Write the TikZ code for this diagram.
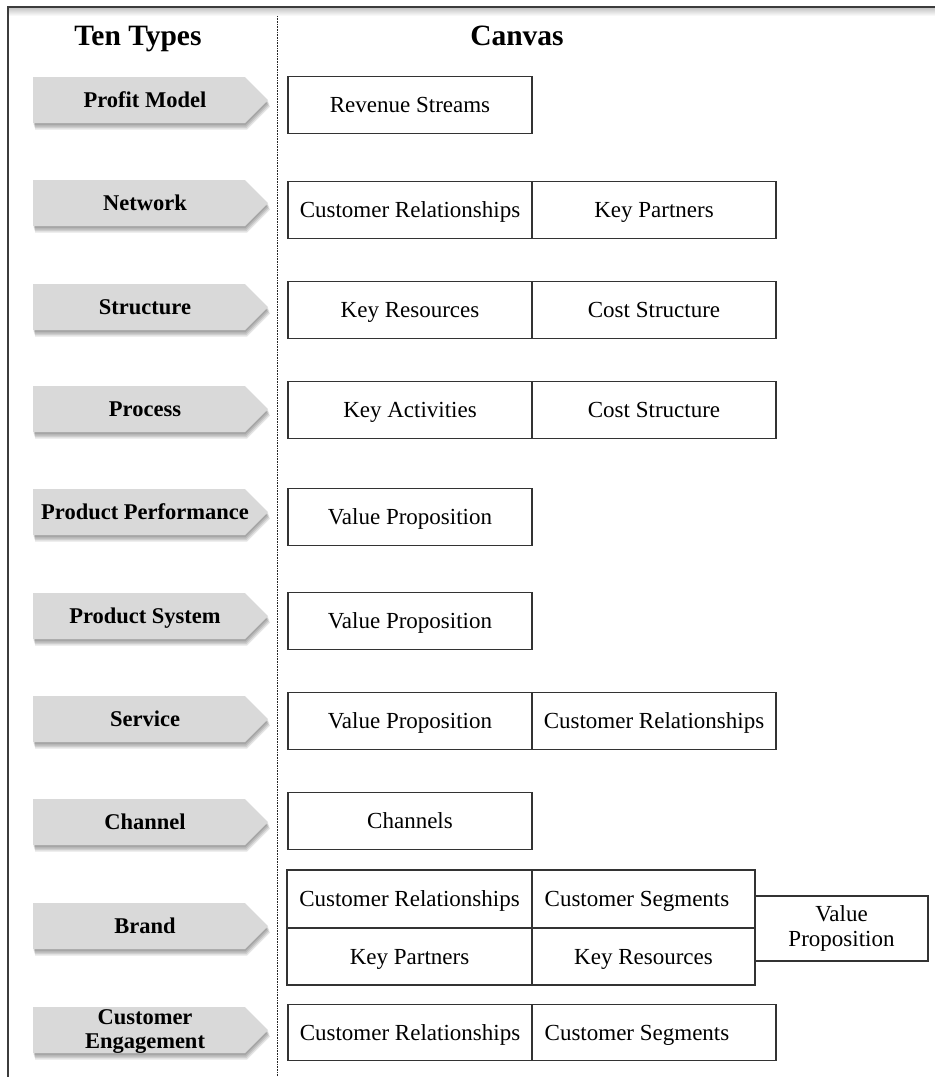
\documentclass[tikz,border=0pt]{standalone}
\usepackage{fontspec}
\setmainfont{Liberation Serif}
\definecolor{arrfill}{HTML}{D9D9D9}
\definecolor{boxline}{HTML}{333333}
\definecolor{frameline}{HTML}{3C3C3C}
\tikzset{
  ctext/.style={inner sep=0pt, text height=15.5pt, text depth=0pt, font=\fontsize{23}{26}\selectfont},
  cbox/.style={ctext, draw=boxline, line width=1.1pt, minimum height=56.5pt},
  vpbox/.style={draw=boxline, line width=1.1pt, inner sep=0pt, align=center, font=\fontsize{23}{25}\selectfont},
  lbl/.style={inner sep=0pt, text height=15pt, text depth=0pt, font=\bfseries\fontsize{22.5}{24}\selectfont},
  lbltwo/.style={inner sep=0pt, align=center, font=\bfseries\fontsize{22.5}{24}\selectfont},
  head/.style={inner sep=0pt, text height=19.5pt, text depth=0pt, font=\bfseries\fontsize{29.5}{32}\selectfont},
  tagshape/.style={fill=arrfill},
  tagshadow/.style={fill=black, opacity=0.1},
}
\newcommand{\tagarrow}[1]{%
  \foreach \d in {2,3.5,5,6.5}{%
    \fill[tagshadow] (33+\d/3,#1-23+\d) -- (245+\d/3,#1-23+\d) -- (268+\d/3,#1+\d) -- (245+\d/3,#1+23+\d) -- (33+\d/3,#1+23+\d) -- cycle;}
  \fill[tagshape] (33,#1-23) -- (245,#1-23) -- (268,#1) -- (245,#1+23) -- (33,#1+23) -- cycle;
}
\begin{document}
\begin{tikzpicture}[x=1pt, y=-1pt]
\useasboundingbox (0,0) rectangle (935,1077);
% frame
\shade[top color=black!22, bottom color=white] (9,8) rectangle (935,16);
\draw[frameline, line width=2pt] (8,7) -- (935,7);
\draw[frameline, line width=1.4pt] (8,6) -- (8,1077);
\draw[black!85, line width=0.9pt, dash pattern=on 0.8pt off 0.8pt] (277,16) -- (277,1077);
% headings
\node[head] (h1) at (138,36) {Ten Types};
\node[head] (h2) at (517,36) {Canvas};
% type arrows
\foreach \y in {100,203,307,409,512,616,719,822,926,1030}{\tagarrow{\y}}
\node[lbl] (t0) at (145,100) {Profit Model};
\node[lbl] (t1) at (145,203) {Network};
\node[lbl] (t2) at (145,307) {Structure};
\node[lbl] (t3) at (145,409) {Process};
\node[lbl] (t4) at (145,512) {Product Performance};
\node[lbl] (t5) at (145,616) {Product System};
\node[lbl] (t6) at (145,719) {Service};
\node[lbl] (t7) at (145,822) {Channel};
\node[lbl] (t8) at (145,926) {Brand};
\node[lbltwo] (t9) at (145,1032) {Customer\\Engagement};
% canvas boxes
\node[cbox, minimum width=244pt] (r0a) at (410,105) {Revenue Streams};
\node[cbox, minimum width=244pt] (r1a) at (410,210) {Customer Relationships};
\node[cbox, minimum width=244pt] (r1b) at (654,210) {Key Partners};
\node[cbox, minimum width=244pt] (r2a) at (410,310) {Key Resources};
\node[cbox, minimum width=244pt] (r2b) at (654,310) {Cost Structure};
\node[cbox, minimum width=244pt] (r3a) at (410,410) {Key Activities};
\node[cbox, minimum width=244pt] (r3b) at (654,410) {Cost Structure};
\node[cbox, minimum width=244pt] (r4a) at (410,517) {Value Proposition};
\node[cbox, minimum width=244pt] (r5a) at (410,621) {Value Proposition};
\node[cbox, minimum width=244pt] (r6a) at (410,721) {Value Proposition};
\node[cbox, minimum width=244pt] (r6b) at (654,721) {Customer Relationships};
\node[cbox, minimum width=244pt] (r7a) at (410,821) {Channels};
% brand grid
\node[cbox, minimum width=245pt, minimum height=58pt] (r8a) at (409.5,899) {Customer Relationships};
\node[cbox, minimum width=223pt, minimum height=58pt] (r8b) at (643.5,899) {};
\node[ctext] (r8bt) at (637,899) {Customer Segments};
\node[cbox, minimum width=245pt, minimum height=57pt] (r8c) at (409.5,956.5) {Key Partners};
\node[cbox, minimum width=223pt, minimum height=57pt] (r8d) at (643.5,956.5) {Key Resources};
\node[vpbox, minimum width=173pt, minimum height=65pt] (r8e) at (841.5,928.5) {Value\\Proposition};
% customer engagement
\node[cbox, minimum width=244pt] (r9a) at (410,1032.5) {Customer Relationships};
\node[cbox, minimum width=244pt] (r9b) at (654,1032.5) {};
\node[ctext] (r9bt) at (637,1032.5) {Customer Segments};
\end{tikzpicture}
\end{document}
